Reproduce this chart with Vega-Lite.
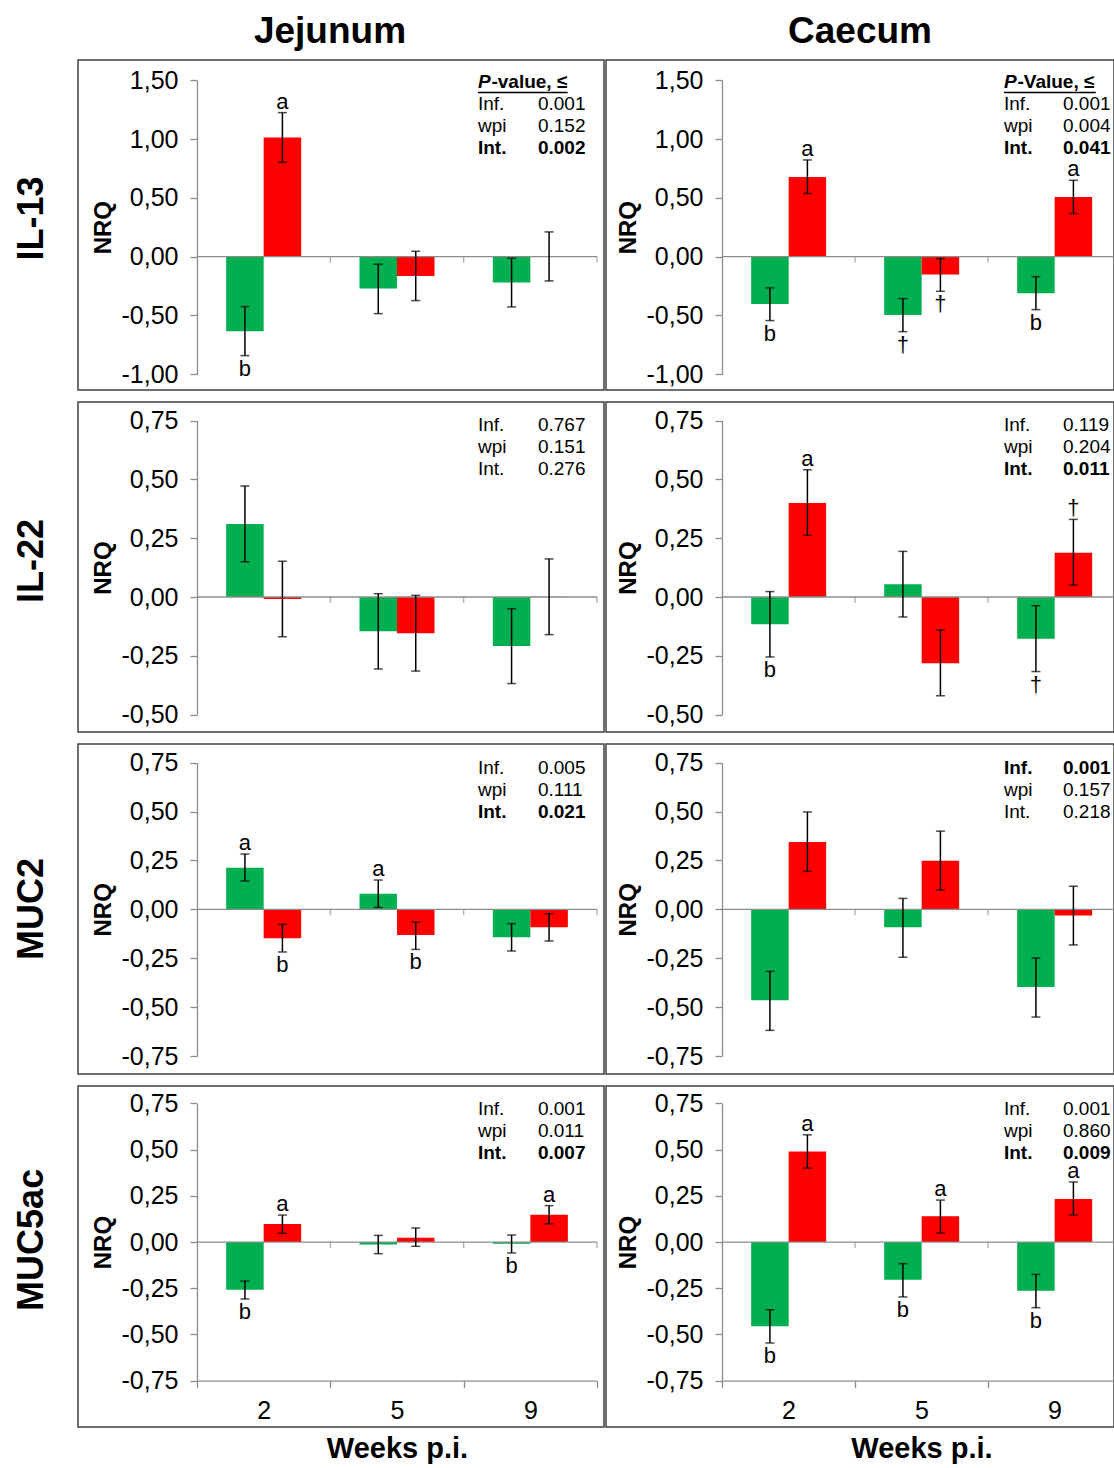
{
"$schema": "https://vega.github.io/schema/vega-lite/v6.json",
"background": "white",
"padding": {"left": 14, "top": 12, "right": 0, "bottom": 0},
"config": {
  "font": "Liberation Sans",
  "view": {"stroke": "#404040", "strokeWidth": 1.5},
  "axis": {"grid": false, "domainColor": "#8c8c8c", "domainWidth": 1.3, "tickColor": "#8c8c8c", "tickWidth": 1.3, "tickSize": 7, "labelFontSize": 25, "labelColor": "black", "titleFontSize": 24, "titleFontWeight": "bold", "titleColor": "black", "labelFont": "Liberation Sans", "titleFont": "Liberation Sans"},
  "title": {"color": "black", "fontWeight": "bold", "anchor": "middle", "font": "Liberation Sans"},
  "text": {"color": "black"}
},
"datasets": {
  "bars": [
    {"tissue":"Jejunum","gene":"IL-13","week":"2","group":"Uninfected","nrq":-0.635,"lo":-0.842,"hi":-0.425,"letter":"b","pos":"below"},
    {"tissue":"Jejunum","gene":"IL-13","week":"2","group":"Infected","nrq":1.012,"lo":0.802,"hi":1.224,"letter":"a","pos":"above"},
    {"tissue":"Jejunum","gene":"IL-13","week":"5","group":"Uninfected","nrq":-0.272,"lo":-0.485,"hi":-0.065,"letter":"","pos":""},
    {"tissue":"Jejunum","gene":"IL-13","week":"5","group":"Infected","nrq":-0.164,"lo":-0.374,"hi":0.045,"letter":"","pos":""},
    {"tissue":"Jejunum","gene":"IL-13","week":"9","group":"Uninfected","nrq":-0.221,"lo":-0.428,"hi":-0.014,"letter":"","pos":""},
    {"tissue":"Jejunum","gene":"IL-13","week":"9","group":"Infected","nrq":0.0,"lo":-0.207,"hi":0.21,"letter":"","pos":""},
    {"tissue":"Caecum","gene":"IL-13","week":"2","group":"Uninfected","nrq":-0.402,"lo":-0.544,"hi":-0.266,"letter":"b","pos":"below"},
    {"tissue":"Caecum","gene":"IL-13","week":"2","group":"Infected","nrq":0.677,"lo":0.536,"hi":0.822,"letter":"a","pos":"above"},
    {"tissue":"Caecum","gene":"IL-13","week":"5","group":"Uninfected","nrq":-0.496,"lo":-0.638,"hi":-0.357,"letter":"†","pos":"below"},
    {"tissue":"Caecum","gene":"IL-13","week":"5","group":"Infected","nrq":-0.153,"lo":-0.295,"hi":-0.017,"letter":"†","pos":"below"},
    {"tissue":"Caecum","gene":"IL-13","week":"9","group":"Uninfected","nrq":-0.312,"lo":-0.451,"hi":-0.17,"letter":"b","pos":"below"},
    {"tissue":"Caecum","gene":"IL-13","week":"9","group":"Infected","nrq":0.507,"lo":0.366,"hi":0.649,"letter":"a","pos":"above"},
    {"tissue":"Jejunum","gene":"IL-22","week":"2","group":"Uninfected","nrq":0.31,"lo":0.15,"hi":0.472,"letter":"","pos":""},
    {"tissue":"Jejunum","gene":"IL-22","week":"2","group":"Infected","nrq":-0.009,"lo":-0.169,"hi":0.152,"letter":"","pos":""},
    {"tissue":"Jejunum","gene":"IL-22","week":"5","group":"Uninfected","nrq":-0.146,"lo":-0.306,"hi":0.014,"letter":"","pos":""},
    {"tissue":"Jejunum","gene":"IL-22","week":"5","group":"Infected","nrq":-0.154,"lo":-0.315,"hi":0.007,"letter":"","pos":""},
    {"tissue":"Jejunum","gene":"IL-22","week":"9","group":"Uninfected","nrq":-0.208,"lo":-0.368,"hi":-0.05,"letter":"","pos":""},
    {"tissue":"Jejunum","gene":"IL-22","week":"9","group":"Infected","nrq":0.001,"lo":-0.16,"hi":0.162,"letter":"","pos":""},
    {"tissue":"Caecum","gene":"IL-22","week":"2","group":"Uninfected","nrq":-0.116,"lo":-0.255,"hi":0.023,"letter":"b","pos":"below"},
    {"tissue":"Caecum","gene":"IL-22","week":"2","group":"Infected","nrq":0.4,"lo":0.262,"hi":0.541,"letter":"a","pos":"above"},
    {"tissue":"Caecum","gene":"IL-22","week":"5","group":"Uninfected","nrq":0.054,"lo":-0.085,"hi":0.194,"letter":"","pos":""},
    {"tissue":"Caecum","gene":"IL-22","week":"5","group":"Infected","nrq":-0.282,"lo":-0.42,"hi":-0.14,"letter":"","pos":""},
    {"tissue":"Caecum","gene":"IL-22","week":"9","group":"Uninfected","nrq":-0.177,"lo":-0.317,"hi":-0.037,"letter":"†","pos":"below"},
    {"tissue":"Caecum","gene":"IL-22","week":"9","group":"Infected","nrq":0.188,"lo":0.051,"hi":0.33,"letter":"†","pos":"above"},
    {"tissue":"Jejunum","gene":"MUC2","week":"2","group":"Uninfected","nrq":0.213,"lo":0.145,"hi":0.283,"letter":"a","pos":"above"},
    {"tissue":"Jejunum","gene":"MUC2","week":"2","group":"Infected","nrq":-0.148,"lo":-0.218,"hi":-0.077,"letter":"b","pos":"below"},
    {"tissue":"Jejunum","gene":"MUC2","week":"5","group":"Uninfected","nrq":0.08,"lo":0.01,"hi":0.15,"letter":"a","pos":"above"},
    {"tissue":"Jejunum","gene":"MUC2","week":"5","group":"Infected","nrq":-0.131,"lo":-0.205,"hi":-0.065,"letter":"b","pos":"below"},
    {"tissue":"Jejunum","gene":"MUC2","week":"9","group":"Uninfected","nrq":-0.143,"lo":-0.213,"hi":-0.073,"letter":"","pos":""},
    {"tissue":"Jejunum","gene":"MUC2","week":"9","group":"Infected","nrq":-0.092,"lo":-0.162,"hi":-0.022,"letter":"","pos":""},
    {"tissue":"Caecum","gene":"MUC2","week":"2","group":"Uninfected","nrq":-0.465,"lo":-0.619,"hi":-0.317,"letter":"","pos":""},
    {"tissue":"Caecum","gene":"MUC2","week":"2","group":"Infected","nrq":0.344,"lo":0.194,"hi":0.498,"letter":"","pos":""},
    {"tissue":"Caecum","gene":"MUC2","week":"5","group":"Uninfected","nrq":-0.092,"lo":-0.245,"hi":0.056,"letter":"","pos":""},
    {"tissue":"Caecum","gene":"MUC2","week":"5","group":"Infected","nrq":0.249,"lo":0.099,"hi":0.4,"letter":"","pos":""},
    {"tissue":"Caecum","gene":"MUC2","week":"9","group":"Uninfected","nrq":-0.397,"lo":-0.551,"hi":-0.249,"letter":"","pos":""},
    {"tissue":"Caecum","gene":"MUC2","week":"9","group":"Infected","nrq":-0.031,"lo":-0.182,"hi":0.118,"letter":"","pos":""},
    {"tissue":"Jejunum","gene":"MUC5ac","week":"2","group":"Uninfected","nrq":-0.258,"lo":-0.308,"hi":-0.211,"letter":"b","pos":"below"},
    {"tissue":"Jejunum","gene":"MUC5ac","week":"2","group":"Infected","nrq":0.097,"lo":0.047,"hi":0.146,"letter":"a","pos":"above"},
    {"tissue":"Jejunum","gene":"MUC5ac","week":"5","group":"Uninfected","nrq":-0.013,"lo":-0.063,"hi":0.036,"letter":"","pos":""},
    {"tissue":"Jejunum","gene":"MUC5ac","week":"5","group":"Infected","nrq":0.023,"lo":-0.023,"hi":0.076,"letter":"","pos":""},
    {"tissue":"Jejunum","gene":"MUC5ac","week":"9","group":"Uninfected","nrq":-0.009,"lo":-0.059,"hi":0.038,"letter":"b","pos":"below"},
    {"tissue":"Jejunum","gene":"MUC5ac","week":"9","group":"Infected","nrq":0.148,"lo":0.099,"hi":0.197,"letter":"a","pos":"above"},
    {"tissue":"Caecum","gene":"MUC5ac","week":"2","group":"Uninfected","nrq":-0.456,"lo":-0.546,"hi":-0.366,"letter":"b","pos":"below"},
    {"tissue":"Caecum","gene":"MUC5ac","week":"2","group":"Infected","nrq":0.49,"lo":0.4,"hi":0.58,"letter":"a","pos":"above"},
    {"tissue":"Caecum","gene":"MUC5ac","week":"5","group":"Uninfected","nrq":-0.204,"lo":-0.297,"hi":-0.117,"letter":"b","pos":"below"},
    {"tissue":"Caecum","gene":"MUC5ac","week":"5","group":"Infected","nrq":0.139,"lo":0.049,"hi":0.227,"letter":"a","pos":"above"},
    {"tissue":"Caecum","gene":"MUC5ac","week":"9","group":"Uninfected","nrq":-0.263,"lo":-0.355,"hi":-0.175,"letter":"b","pos":"below"},
    {"tissue":"Caecum","gene":"MUC5ac","week":"9","group":"Infected","nrq":0.233,"lo":0.146,"hi":0.325,"letter":"a","pos":"above"}
  ],
  "pvals": [
    {"tissue":"Jejunum","gene":"IL-13","term":"hdr","p":"-value, ≤","bold":true},
    {"tissue":"Jejunum","gene":"IL-13","term":"Inf.","p":"0.001","bold":false},
    {"tissue":"Jejunum","gene":"IL-13","term":"wpi","p":"0.152","bold":false},
    {"tissue":"Jejunum","gene":"IL-13","term":"Int.","p":"0.002","bold":true},
    {"tissue":"Caecum","gene":"IL-13","term":"hdr","p":"-Value, ≤","bold":true},
    {"tissue":"Caecum","gene":"IL-13","term":"Inf.","p":"0.001","bold":false},
    {"tissue":"Caecum","gene":"IL-13","term":"wpi","p":"0.004","bold":false},
    {"tissue":"Caecum","gene":"IL-13","term":"Int.","p":"0.041","bold":true},
    {"tissue":"Jejunum","gene":"IL-22","term":"Inf.","p":"0.767","bold":false},
    {"tissue":"Jejunum","gene":"IL-22","term":"wpi","p":"0.151","bold":false},
    {"tissue":"Jejunum","gene":"IL-22","term":"Int.","p":"0.276","bold":false},
    {"tissue":"Caecum","gene":"IL-22","term":"Inf.","p":"0.119","bold":false},
    {"tissue":"Caecum","gene":"IL-22","term":"wpi","p":"0.204","bold":false},
    {"tissue":"Caecum","gene":"IL-22","term":"Int.","p":"0.011","bold":true},
    {"tissue":"Jejunum","gene":"MUC2","term":"Inf.","p":"0.005","bold":false},
    {"tissue":"Jejunum","gene":"MUC2","term":"wpi","p":"0.111","bold":false},
    {"tissue":"Jejunum","gene":"MUC2","term":"Int.","p":"0.021","bold":true},
    {"tissue":"Caecum","gene":"MUC2","term":"Inf.","p":"0.001","bold":true},
    {"tissue":"Caecum","gene":"MUC2","term":"wpi","p":"0.157","bold":false},
    {"tissue":"Caecum","gene":"MUC2","term":"Int.","p":"0.218","bold":false},
    {"tissue":"Jejunum","gene":"MUC5ac","term":"Inf.","p":"0.001","bold":false},
    {"tissue":"Jejunum","gene":"MUC5ac","term":"wpi","p":"0.011","bold":false},
    {"tissue":"Jejunum","gene":"MUC5ac","term":"Int.","p":"0.007","bold":true},
    {"tissue":"Caecum","gene":"MUC5ac","term":"Inf.","p":"0.001","bold":false},
    {"tissue":"Caecum","gene":"MUC5ac","term":"wpi","p":"0.860","bold":false},
    {"tissue":"Caecum","gene":"MUC5ac","term":"Int.","p":"0.009","bold":true}
  ]
},
"spacing": 10,
"vconcat": [
{
 "title": {"text": "IL-13", "orient": "left", "fontSize": 36, "offset": 26, "dx": -17},
 "spacing": 0,
 "hconcat": [
  {
   "width": 526, "height": 330,
   "title": {"text": "Jejunum", "fontSize": 37, "offset": 9, "dx": -11},
   "data": {"name": "bars"},
   "layer": [
    {"transform": [{"filter": "datum.tissue === 'Jejunum' && datum.gene === 'IL-13'"}], "mark": {"type": "bar"}, "encoding": {
      "x": {"field": "week", "type": "ordinal", "scale": {"domain": ["2","5","9"], "range": [119, 519], "paddingInner": 0, "paddingOuter": 0}, "axis": null},
      "xOffset": {"field": "group", "type": "nominal", "scale": {"domain": ["Uninfected","Infected"], "paddingInner": 0, "paddingOuter": 0.778}},
      "y": {"field": "nrq", "type": "quantitative", "scale": {"domain": [-1, 1.5], "range": [314.2, 20.2], "nice": false, "zero": false}, "axis": {"values": [-1,-0.5,0,0.5,1,1.5], "labelExpr": "(datum.value < 0 ? '-' : '') + replace(format(abs(datum.value), '.2f'), '.', ',')", "offset": -119, "title": "NRQ", "labelPadding": 12, "titlePadding": 6}},
      "y2": {"datum": 0},
      "color": {"field": "group", "type": "nominal", "scale": {"domain": ["Uninfected","Infected"], "range": ["#00B050","#FF0000"]}, "legend": null}}},
    {"transform": [{"filter": "datum.tissue === 'Jejunum' && datum.gene === 'IL-13' && datum.week === '2' && datum.group === 'Uninfected'"}], "mark": {"type": "rule", "color": "#8c8c8c", "strokeWidth": 1.3}, "encoding": {"x": {"datum": "2", "type": "ordinal", "bandPosition": 0, "axis": null}, "x2": {"datum": "9", "bandPosition": 1}, "y": {"datum": 0, "type": "quantitative", "scale": {"domain": [-1, 1.5], "range": [314.2, 20.2], "nice": false, "zero": false}, "axis": null}}},
    {"transform": [{"filter": "datum.tissue === 'Jejunum' && datum.gene === 'IL-13' && datum.group === 'Uninfected'"}], "mark": {"type": "tick", "orient": "vertical", "size": 6, "thickness": 1.3, "color": "#8c8c8c", "yOffset": 3}, "encoding": {"x": {"field": "week", "type": "ordinal", "bandPosition": 1, "axis": null}, "y": {"datum": 0, "type": "quantitative", "scale": {"domain": [-1, 1.5], "range": [314.2, 20.2], "nice": false, "zero": false}, "axis": null}}},
    {"transform": [{"filter": "datum.tissue === 'Jejunum' && datum.gene === 'IL-13'"}], "mark": {"type": "rule", "color": "black", "strokeWidth": 1.5}, "encoding": {"x": {"field": "week", "type": "ordinal", "axis": null}, "xOffset": {"field": "group", "type": "nominal"}, "y": {"field": "lo", "type": "quantitative", "scale": {"domain": [-1, 1.5], "range": [314.2, 20.2], "nice": false, "zero": false}, "axis": null}, "y2": {"field": "hi"}}},
    {"transform": [{"filter": "datum.tissue === 'Jejunum' && datum.gene === 'IL-13'"}], "mark": {"type": "tick", "orient": "horizontal", "size": 9, "thickness": 1.5, "color": "black"}, "encoding": {"x": {"field": "week", "type": "ordinal", "axis": null}, "xOffset": {"field": "group", "type": "nominal"}, "y": {"field": "lo", "type": "quantitative", "scale": {"domain": [-1, 1.5], "range": [314.2, 20.2], "nice": false, "zero": false}, "axis": null}}},
    {"transform": [{"filter": "datum.tissue === 'Jejunum' && datum.gene === 'IL-13'"}], "mark": {"type": "tick", "orient": "horizontal", "size": 9, "thickness": 1.5, "color": "black"}, "encoding": {"x": {"field": "week", "type": "ordinal", "axis": null}, "xOffset": {"field": "group", "type": "nominal"}, "y": {"field": "hi", "type": "quantitative", "scale": {"domain": [-1, 1.5], "range": [314.2, 20.2], "nice": false, "zero": false}, "axis": null}}},
    {"transform": [{"filter": "datum.tissue === 'Jejunum' && datum.gene === 'IL-13' && datum.pos === 'above'"}], "mark": {"type": "text", "baseline": "alphabetic", "dy": -4, "fontSize": 22}, "encoding": {"x": {"field": "week", "type": "ordinal", "axis": null}, "xOffset": {"field": "group", "type": "nominal"}, "y": {"field": "hi", "type": "quantitative", "scale": {"domain": [-1, 1.5], "range": [314.2, 20.2], "nice": false, "zero": false}, "axis": null}, "text": {"field": "letter"}}},
    {"transform": [{"filter": "datum.tissue === 'Jejunum' && datum.gene === 'IL-13' && datum.pos === 'below'"}], "mark": {"type": "text", "baseline": "top", "dy": 3, "fontSize": 22}, "encoding": {"x": {"field": "week", "type": "ordinal", "axis": null}, "xOffset": {"field": "group", "type": "nominal"}, "y": {"field": "lo", "type": "quantitative", "scale": {"domain": [-1, 1.5], "range": [314.2, 20.2], "nice": false, "zero": false}, "axis": null}, "text": {"field": "letter"}}},
    {"data": {"name": "pvals"}, "transform": [{"filter": "datum.tissue === 'Jejunum' && datum.gene === 'IL-13' && datum.term !== 'hdr'"}], "mark": {"type": "text", "align": "left", "baseline": "middle", "fontSize": 19, "fontWeight": {"expr": "datum.bold ? 'bold' : 'normal'"}}, "encoding": {"x": {"datum": "9", "type": "ordinal", "bandPosition": 0.107, "axis": null}, "y": {"field": "term", "type": "nominal", "scale": {"type": "point", "domain": ["hdr","Inf.","wpi","Int."], "range": [21.5, 87.5], "padding": 0}, "axis": null}, "text": {"field": "term"}}},
    {"data": {"name": "pvals"}, "transform": [{"filter": "datum.tissue === 'Jejunum' && datum.gene === 'IL-13' && datum.term !== 'hdr'"}], "mark": {"type": "text", "align": "left", "baseline": "middle", "fontSize": 19, "fontWeight": {"expr": "datum.bold ? 'bold' : 'normal'"}}, "encoding": {"x": {"datum": "9", "type": "ordinal", "bandPosition": 0.557, "axis": null}, "y": {"field": "term", "type": "nominal", "scale": {"type": "point", "domain": ["hdr","Inf.","wpi","Int."], "range": [21.5, 87.5], "padding": 0}, "axis": null}, "text": {"field": "p"}}},
    {"data": {"name": "pvals"}, "transform": [{"filter": "datum.tissue === 'Jejunum' && datum.gene === 'IL-13' && datum.term === 'hdr'"}], "mark": {"type": "text", "align": "left", "baseline": "middle", "fontSize": 19, "fontWeight": "bold", "fontStyle": "italic", "text": "P"}, "encoding": {"x": {"datum": "9", "type": "ordinal", "bandPosition": 0.107, "axis": null}, "y": {"field": "term", "type": "nominal", "scale": {"type": "point", "domain": ["hdr","Inf.","wpi","Int."], "range": [21.5, 87.5], "padding": 0}, "axis": null}}},
    {"data": {"name": "pvals"}, "transform": [{"filter": "datum.tissue === 'Jejunum' && datum.gene === 'IL-13' && datum.term === 'hdr'"}], "mark": {"type": "text", "align": "left", "baseline": "middle", "fontSize": 19, "fontWeight": "bold", "dx": 13.5}, "encoding": {"x": {"datum": "9", "type": "ordinal", "bandPosition": 0.107, "axis": null}, "y": {"field": "term", "type": "nominal", "scale": {"type": "point", "domain": ["hdr","Inf.","wpi","Int."], "range": [21.5, 87.5], "padding": 0}, "axis": null}, "text": {"field": "p"}}},
    {"data": {"name": "pvals"}, "transform": [{"filter": "datum.tissue === 'Jejunum' && datum.gene === 'IL-13' && datum.term === 'hdr'"}], "mark": {"type": "rule", "color": "black", "strokeWidth": 1.4, "yOffset": 11}, "encoding": {"x": {"datum": "9", "type": "ordinal", "bandPosition": 0.107, "axis": null}, "x2": {"datum": "9", "bandPosition": 0.78}, "y": {"field": "term", "type": "nominal", "scale": {"type": "point", "domain": ["hdr","Inf.","wpi","Int."], "range": [21.5, 87.5], "padding": 0}, "axis": null}}}
   ],
   "resolve": {"scale": {"y": "independent"}}
  },
  {
   "width": 508, "height": 330,
   "title": {"text": "Caecum", "fontSize": 37, "offset": 9},
   "data": {"name": "bars"},
   "layer": [
    {"transform": [{"filter": "datum.tissue === 'Caecum' && datum.gene === 'IL-13'"}], "mark": {"type": "bar"}, "encoding": {
      "x": {"field": "week", "type": "ordinal", "scale": {"domain": ["2","5","9"], "range": [116, 515], "paddingInner": 0, "paddingOuter": 0}, "axis": null},
      "xOffset": {"field": "group", "type": "nominal", "scale": {"domain": ["Uninfected","Infected"], "paddingInner": 0, "paddingOuter": 0.778}},
      "y": {"field": "nrq", "type": "quantitative", "scale": {"domain": [-1, 1.5], "range": [314.2, 20.2], "nice": false, "zero": false}, "axis": {"values": [-1,-0.5,0,0.5,1,1.5], "labelExpr": "(datum.value < 0 ? '-' : '') + replace(format(abs(datum.value), '.2f'), '.', ',')", "offset": -116, "title": "NRQ", "labelPadding": 12, "titlePadding": 6}},
      "y2": {"datum": 0},
      "color": {"field": "group", "type": "nominal", "scale": {"domain": ["Uninfected","Infected"], "range": ["#00B050","#FF0000"]}, "legend": null}}},
    {"transform": [{"filter": "datum.tissue === 'Caecum' && datum.gene === 'IL-13' && datum.week === '2' && datum.group === 'Uninfected'"}], "mark": {"type": "rule", "color": "#8c8c8c", "strokeWidth": 1.3}, "encoding": {"x": {"datum": "2", "type": "ordinal", "bandPosition": 0, "axis": null}, "x2": {"datum": "9", "bandPosition": 1}, "y": {"datum": 0, "type": "quantitative", "scale": {"domain": [-1, 1.5], "range": [314.2, 20.2], "nice": false, "zero": false}, "axis": null}}},
    {"transform": [{"filter": "datum.tissue === 'Caecum' && datum.gene === 'IL-13' && datum.group === 'Uninfected'"}], "mark": {"type": "tick", "orient": "vertical", "size": 6, "thickness": 1.3, "color": "#8c8c8c", "yOffset": 3}, "encoding": {"x": {"field": "week", "type": "ordinal", "bandPosition": 1, "axis": null}, "y": {"datum": 0, "type": "quantitative", "scale": {"domain": [-1, 1.5], "range": [314.2, 20.2], "nice": false, "zero": false}, "axis": null}}},
    {"transform": [{"filter": "datum.tissue === 'Caecum' && datum.gene === 'IL-13'"}], "mark": {"type": "rule", "color": "black", "strokeWidth": 1.5}, "encoding": {"x": {"field": "week", "type": "ordinal", "axis": null}, "xOffset": {"field": "group", "type": "nominal"}, "y": {"field": "lo", "type": "quantitative", "scale": {"domain": [-1, 1.5], "range": [314.2, 20.2], "nice": false, "zero": false}, "axis": null}, "y2": {"field": "hi"}}},
    {"transform": [{"filter": "datum.tissue === 'Caecum' && datum.gene === 'IL-13'"}], "mark": {"type": "tick", "orient": "horizontal", "size": 9, "thickness": 1.5, "color": "black"}, "encoding": {"x": {"field": "week", "type": "ordinal", "axis": null}, "xOffset": {"field": "group", "type": "nominal"}, "y": {"field": "lo", "type": "quantitative", "scale": {"domain": [-1, 1.5], "range": [314.2, 20.2], "nice": false, "zero": false}, "axis": null}}},
    {"transform": [{"filter": "datum.tissue === 'Caecum' && datum.gene === 'IL-13'"}], "mark": {"type": "tick", "orient": "horizontal", "size": 9, "thickness": 1.5, "color": "black"}, "encoding": {"x": {"field": "week", "type": "ordinal", "axis": null}, "xOffset": {"field": "group", "type": "nominal"}, "y": {"field": "hi", "type": "quantitative", "scale": {"domain": [-1, 1.5], "range": [314.2, 20.2], "nice": false, "zero": false}, "axis": null}}},
    {"transform": [{"filter": "datum.tissue === 'Caecum' && datum.gene === 'IL-13' && datum.pos === 'above'"}], "mark": {"type": "text", "baseline": "alphabetic", "dy": -4, "fontSize": 22}, "encoding": {"x": {"field": "week", "type": "ordinal", "axis": null}, "xOffset": {"field": "group", "type": "nominal"}, "y": {"field": "hi", "type": "quantitative", "scale": {"domain": [-1, 1.5], "range": [314.2, 20.2], "nice": false, "zero": false}, "axis": null}, "text": {"field": "letter"}}},
    {"transform": [{"filter": "datum.tissue === 'Caecum' && datum.gene === 'IL-13' && datum.pos === 'below'"}], "mark": {"type": "text", "baseline": "top", "dy": 3, "fontSize": 22}, "encoding": {"x": {"field": "week", "type": "ordinal", "axis": null}, "xOffset": {"field": "group", "type": "nominal"}, "y": {"field": "lo", "type": "quantitative", "scale": {"domain": [-1, 1.5], "range": [314.2, 20.2], "nice": false, "zero": false}, "axis": null}, "text": {"field": "letter"}}},
    {"data": {"name": "pvals"}, "transform": [{"filter": "datum.tissue === 'Caecum' && datum.gene === 'IL-13' && datum.term !== 'hdr'"}], "mark": {"type": "text", "align": "left", "baseline": "middle", "fontSize": 19, "fontWeight": {"expr": "datum.bold ? 'bold' : 'normal'"}}, "encoding": {"x": {"datum": "9", "type": "ordinal", "bandPosition": 0.12, "axis": null}, "y": {"field": "term", "type": "nominal", "scale": {"type": "point", "domain": ["hdr","Inf.","wpi","Int."], "range": [21.5, 87.5], "padding": 0}, "axis": null}, "text": {"field": "term"}}},
    {"data": {"name": "pvals"}, "transform": [{"filter": "datum.tissue === 'Caecum' && datum.gene === 'IL-13' && datum.term !== 'hdr'"}], "mark": {"type": "text", "align": "left", "baseline": "middle", "fontSize": 19, "fontWeight": {"expr": "datum.bold ? 'bold' : 'normal'"}}, "encoding": {"x": {"datum": "9", "type": "ordinal", "bandPosition": 0.564, "axis": null}, "y": {"field": "term", "type": "nominal", "scale": {"type": "point", "domain": ["hdr","Inf.","wpi","Int."], "range": [21.5, 87.5], "padding": 0}, "axis": null}, "text": {"field": "p"}}},
    {"data": {"name": "pvals"}, "transform": [{"filter": "datum.tissue === 'Caecum' && datum.gene === 'IL-13' && datum.term === 'hdr'"}], "mark": {"type": "text", "align": "left", "baseline": "middle", "fontSize": 19, "fontWeight": "bold", "fontStyle": "italic", "text": "P"}, "encoding": {"x": {"datum": "9", "type": "ordinal", "bandPosition": 0.12, "axis": null}, "y": {"field": "term", "type": "nominal", "scale": {"type": "point", "domain": ["hdr","Inf.","wpi","Int."], "range": [21.5, 87.5], "padding": 0}, "axis": null}}},
    {"data": {"name": "pvals"}, "transform": [{"filter": "datum.tissue === 'Caecum' && datum.gene === 'IL-13' && datum.term === 'hdr'"}], "mark": {"type": "text", "align": "left", "baseline": "middle", "fontSize": 19, "fontWeight": "bold", "dx": 13.5}, "encoding": {"x": {"datum": "9", "type": "ordinal", "bandPosition": 0.12, "axis": null}, "y": {"field": "term", "type": "nominal", "scale": {"type": "point", "domain": ["hdr","Inf.","wpi","Int."], "range": [21.5, 87.5], "padding": 0}, "axis": null}, "text": {"field": "p"}}},
    {"data": {"name": "pvals"}, "transform": [{"filter": "datum.tissue === 'Caecum' && datum.gene === 'IL-13' && datum.term === 'hdr'"}], "mark": {"type": "rule", "color": "black", "strokeWidth": 1.4, "yOffset": 11}, "encoding": {"x": {"datum": "9", "type": "ordinal", "bandPosition": 0.12, "axis": null}, "x2": {"datum": "9", "bandPosition": 0.81}, "y": {"field": "term", "type": "nominal", "scale": {"type": "point", "domain": ["hdr","Inf.","wpi","Int."], "range": [21.5, 87.5], "padding": 0}, "axis": null}}}
   ],
   "resolve": {"scale": {"y": "independent"}}
  }
 ]
},
{
 "title": {"text": "IL-22", "orient": "left", "fontSize": 36, "offset": 26, "dx": 6},
 "spacing": 0,
 "hconcat": [
  {
   "width": 526, "height": 330,
   "data": {"name": "bars"},
   "layer": [
    {"transform": [{"filter": "datum.tissue === 'Jejunum' && datum.gene === 'IL-22'"}], "mark": {"type": "bar"}, "encoding": {
      "x": {"field": "week", "type": "ordinal", "scale": {"domain": ["2","5","9"], "range": [119, 519], "paddingInner": 0, "paddingOuter": 0}, "axis": null},
      "xOffset": {"field": "group", "type": "nominal", "scale": {"domain": ["Uninfected","Infected"], "paddingInner": 0, "paddingOuter": 0.778}},
      "y": {"field": "nrq", "type": "quantitative", "scale": {"domain": [-0.5, 0.75], "range": [312.6, 18.6], "nice": false, "zero": false}, "axis": {"values": [-0.5,-0.25,0,0.25,0.5,0.75], "labelExpr": "(datum.value < 0 ? '-' : '') + replace(format(abs(datum.value), '.2f'), '.', ',')", "offset": -119, "title": "NRQ", "labelPadding": 12, "titlePadding": 6}},
      "y2": {"datum": 0},
      "color": {"field": "group", "type": "nominal", "scale": {"domain": ["Uninfected","Infected"], "range": ["#00B050","#FF0000"]}, "legend": null}}},
    {"transform": [{"filter": "datum.tissue === 'Jejunum' && datum.gene === 'IL-22' && datum.week === '2' && datum.group === 'Uninfected'"}], "mark": {"type": "rule", "color": "#8c8c8c", "strokeWidth": 1.3}, "encoding": {"x": {"datum": "2", "type": "ordinal", "bandPosition": 0, "axis": null}, "x2": {"datum": "9", "bandPosition": 1}, "y": {"datum": 0, "type": "quantitative", "scale": {"domain": [-0.5, 0.75], "range": [312.6, 18.6], "nice": false, "zero": false}, "axis": null}}},
    {"transform": [{"filter": "datum.tissue === 'Jejunum' && datum.gene === 'IL-22' && datum.group === 'Uninfected'"}], "mark": {"type": "tick", "orient": "vertical", "size": 6, "thickness": 1.3, "color": "#8c8c8c", "yOffset": 3}, "encoding": {"x": {"field": "week", "type": "ordinal", "bandPosition": 1, "axis": null}, "y": {"datum": 0, "type": "quantitative", "scale": {"domain": [-0.5, 0.75], "range": [312.6, 18.6], "nice": false, "zero": false}, "axis": null}}},
    {"transform": [{"filter": "datum.tissue === 'Jejunum' && datum.gene === 'IL-22'"}], "mark": {"type": "rule", "color": "black", "strokeWidth": 1.5}, "encoding": {"x": {"field": "week", "type": "ordinal", "axis": null}, "xOffset": {"field": "group", "type": "nominal"}, "y": {"field": "lo", "type": "quantitative", "scale": {"domain": [-0.5, 0.75], "range": [312.6, 18.6], "nice": false, "zero": false}, "axis": null}, "y2": {"field": "hi"}}},
    {"transform": [{"filter": "datum.tissue === 'Jejunum' && datum.gene === 'IL-22'"}], "mark": {"type": "tick", "orient": "horizontal", "size": 9, "thickness": 1.5, "color": "black"}, "encoding": {"x": {"field": "week", "type": "ordinal", "axis": null}, "xOffset": {"field": "group", "type": "nominal"}, "y": {"field": "lo", "type": "quantitative", "scale": {"domain": [-0.5, 0.75], "range": [312.6, 18.6], "nice": false, "zero": false}, "axis": null}}},
    {"transform": [{"filter": "datum.tissue === 'Jejunum' && datum.gene === 'IL-22'"}], "mark": {"type": "tick", "orient": "horizontal", "size": 9, "thickness": 1.5, "color": "black"}, "encoding": {"x": {"field": "week", "type": "ordinal", "axis": null}, "xOffset": {"field": "group", "type": "nominal"}, "y": {"field": "hi", "type": "quantitative", "scale": {"domain": [-0.5, 0.75], "range": [312.6, 18.6], "nice": false, "zero": false}, "axis": null}}},
    {"data": {"name": "pvals"}, "transform": [{"filter": "datum.tissue === 'Jejunum' && datum.gene === 'IL-22'"}], "mark": {"type": "text", "align": "left", "baseline": "middle", "fontSize": 19, "fontWeight": {"expr": "datum.bold ? 'bold' : 'normal'"}}, "encoding": {"x": {"datum": "9", "type": "ordinal", "bandPosition": 0.107, "axis": null}, "y": {"field": "term", "type": "nominal", "scale": {"type": "point", "domain": ["Inf.","wpi","Int."], "range": [23.3, 67.3], "padding": 0}, "axis": null}, "text": {"field": "term"}}},
    {"data": {"name": "pvals"}, "transform": [{"filter": "datum.tissue === 'Jejunum' && datum.gene === 'IL-22'"}], "mark": {"type": "text", "align": "left", "baseline": "middle", "fontSize": 19, "fontWeight": {"expr": "datum.bold ? 'bold' : 'normal'"}}, "encoding": {"x": {"datum": "9", "type": "ordinal", "bandPosition": 0.557, "axis": null}, "y": {"field": "term", "type": "nominal", "scale": {"type": "point", "domain": ["Inf.","wpi","Int."], "range": [23.3, 67.3], "padding": 0}, "axis": null}, "text": {"field": "p"}}}
   ],
   "resolve": {"scale": {"y": "independent"}}
  },
  {
   "width": 508, "height": 330,
   "data": {"name": "bars"},
   "layer": [
    {"transform": [{"filter": "datum.tissue === 'Caecum' && datum.gene === 'IL-22'"}], "mark": {"type": "bar"}, "encoding": {
      "x": {"field": "week", "type": "ordinal", "scale": {"domain": ["2","5","9"], "range": [116, 515], "paddingInner": 0, "paddingOuter": 0}, "axis": null},
      "xOffset": {"field": "group", "type": "nominal", "scale": {"domain": ["Uninfected","Infected"], "paddingInner": 0, "paddingOuter": 0.778}},
      "y": {"field": "nrq", "type": "quantitative", "scale": {"domain": [-0.5, 0.75], "range": [312.6, 18.6], "nice": false, "zero": false}, "axis": {"values": [-0.5,-0.25,0,0.25,0.5,0.75], "labelExpr": "(datum.value < 0 ? '-' : '') + replace(format(abs(datum.value), '.2f'), '.', ',')", "offset": -116, "title": "NRQ", "labelPadding": 12, "titlePadding": 6}},
      "y2": {"datum": 0},
      "color": {"field": "group", "type": "nominal", "scale": {"domain": ["Uninfected","Infected"], "range": ["#00B050","#FF0000"]}, "legend": null}}},
    {"transform": [{"filter": "datum.tissue === 'Caecum' && datum.gene === 'IL-22' && datum.week === '2' && datum.group === 'Uninfected'"}], "mark": {"type": "rule", "color": "#8c8c8c", "strokeWidth": 1.3}, "encoding": {"x": {"datum": "2", "type": "ordinal", "bandPosition": 0, "axis": null}, "x2": {"datum": "9", "bandPosition": 1}, "y": {"datum": 0, "type": "quantitative", "scale": {"domain": [-0.5, 0.75], "range": [312.6, 18.6], "nice": false, "zero": false}, "axis": null}}},
    {"transform": [{"filter": "datum.tissue === 'Caecum' && datum.gene === 'IL-22' && datum.group === 'Uninfected'"}], "mark": {"type": "tick", "orient": "vertical", "size": 6, "thickness": 1.3, "color": "#8c8c8c", "yOffset": 3}, "encoding": {"x": {"field": "week", "type": "ordinal", "bandPosition": 1, "axis": null}, "y": {"datum": 0, "type": "quantitative", "scale": {"domain": [-0.5, 0.75], "range": [312.6, 18.6], "nice": false, "zero": false}, "axis": null}}},
    {"transform": [{"filter": "datum.tissue === 'Caecum' && datum.gene === 'IL-22'"}], "mark": {"type": "rule", "color": "black", "strokeWidth": 1.5}, "encoding": {"x": {"field": "week", "type": "ordinal", "axis": null}, "xOffset": {"field": "group", "type": "nominal"}, "y": {"field": "lo", "type": "quantitative", "scale": {"domain": [-0.5, 0.75], "range": [312.6, 18.6], "nice": false, "zero": false}, "axis": null}, "y2": {"field": "hi"}}},
    {"transform": [{"filter": "datum.tissue === 'Caecum' && datum.gene === 'IL-22'"}], "mark": {"type": "tick", "orient": "horizontal", "size": 9, "thickness": 1.5, "color": "black"}, "encoding": {"x": {"field": "week", "type": "ordinal", "axis": null}, "xOffset": {"field": "group", "type": "nominal"}, "y": {"field": "lo", "type": "quantitative", "scale": {"domain": [-0.5, 0.75], "range": [312.6, 18.6], "nice": false, "zero": false}, "axis": null}}},
    {"transform": [{"filter": "datum.tissue === 'Caecum' && datum.gene === 'IL-22'"}], "mark": {"type": "tick", "orient": "horizontal", "size": 9, "thickness": 1.5, "color": "black"}, "encoding": {"x": {"field": "week", "type": "ordinal", "axis": null}, "xOffset": {"field": "group", "type": "nominal"}, "y": {"field": "hi", "type": "quantitative", "scale": {"domain": [-0.5, 0.75], "range": [312.6, 18.6], "nice": false, "zero": false}, "axis": null}}},
    {"transform": [{"filter": "datum.tissue === 'Caecum' && datum.gene === 'IL-22' && datum.pos === 'above'"}], "mark": {"type": "text", "baseline": "alphabetic", "dy": -4, "fontSize": 22}, "encoding": {"x": {"field": "week", "type": "ordinal", "axis": null}, "xOffset": {"field": "group", "type": "nominal"}, "y": {"field": "hi", "type": "quantitative", "scale": {"domain": [-0.5, 0.75], "range": [312.6, 18.6], "nice": false, "zero": false}, "axis": null}, "text": {"field": "letter"}}},
    {"transform": [{"filter": "datum.tissue === 'Caecum' && datum.gene === 'IL-22' && datum.pos === 'below'"}], "mark": {"type": "text", "baseline": "top", "dy": 3, "fontSize": 22}, "encoding": {"x": {"field": "week", "type": "ordinal", "axis": null}, "xOffset": {"field": "group", "type": "nominal"}, "y": {"field": "lo", "type": "quantitative", "scale": {"domain": [-0.5, 0.75], "range": [312.6, 18.6], "nice": false, "zero": false}, "axis": null}, "text": {"field": "letter"}}},
    {"data": {"name": "pvals"}, "transform": [{"filter": "datum.tissue === 'Caecum' && datum.gene === 'IL-22'"}], "mark": {"type": "text", "align": "left", "baseline": "middle", "fontSize": 19, "fontWeight": {"expr": "datum.bold ? 'bold' : 'normal'"}}, "encoding": {"x": {"datum": "9", "type": "ordinal", "bandPosition": 0.12, "axis": null}, "y": {"field": "term", "type": "nominal", "scale": {"type": "point", "domain": ["Inf.","wpi","Int."], "range": [23.3, 67.3], "padding": 0}, "axis": null}, "text": {"field": "term"}}},
    {"data": {"name": "pvals"}, "transform": [{"filter": "datum.tissue === 'Caecum' && datum.gene === 'IL-22'"}], "mark": {"type": "text", "align": "left", "baseline": "middle", "fontSize": 19, "fontWeight": {"expr": "datum.bold ? 'bold' : 'normal'"}}, "encoding": {"x": {"datum": "9", "type": "ordinal", "bandPosition": 0.564, "axis": null}, "y": {"field": "term", "type": "nominal", "scale": {"type": "point", "domain": ["Inf.","wpi","Int."], "range": [23.3, 67.3], "padding": 0}, "axis": null}, "text": {"field": "p"}}}
   ],
   "resolve": {"scale": {"y": "independent"}}
  }
 ]
},
{
 "title": {"text": "MUC2", "orient": "left", "fontSize": 36, "offset": 26},
 "spacing": 0,
 "hconcat": [
  {
   "width": 526, "height": 330,
   "data": {"name": "bars"},
   "layer": [
    {"transform": [{"filter": "datum.tissue === 'Jejunum' && datum.gene === 'MUC2'"}], "mark": {"type": "bar"}, "encoding": {
      "x": {"field": "week", "type": "ordinal", "scale": {"domain": ["2","5","9"], "range": [119, 519], "paddingInner": 0, "paddingOuter": 0}, "axis": null},
      "xOffset": {"field": "group", "type": "nominal", "scale": {"domain": ["Uninfected","Infected"], "paddingInner": 0, "paddingOuter": 0.778}},
      "y": {"field": "nrq", "type": "quantitative", "scale": {"domain": [-0.75, 0.75], "range": [312, 18.7], "nice": false, "zero": false}, "axis": {"values": [-0.75,-0.5,-0.25,0,0.25,0.5,0.75], "labelExpr": "(datum.value < 0 ? '-' : '') + replace(format(abs(datum.value), '.2f'), '.', ',')", "offset": -119, "title": "NRQ", "labelPadding": 12, "titlePadding": 6}},
      "y2": {"datum": 0},
      "color": {"field": "group", "type": "nominal", "scale": {"domain": ["Uninfected","Infected"], "range": ["#00B050","#FF0000"]}, "legend": null}}},
    {"transform": [{"filter": "datum.tissue === 'Jejunum' && datum.gene === 'MUC2' && datum.week === '2' && datum.group === 'Uninfected'"}], "mark": {"type": "rule", "color": "#8c8c8c", "strokeWidth": 1.3}, "encoding": {"x": {"datum": "2", "type": "ordinal", "bandPosition": 0, "axis": null}, "x2": {"datum": "9", "bandPosition": 1}, "y": {"datum": 0, "type": "quantitative", "scale": {"domain": [-0.75, 0.75], "range": [312, 18.7], "nice": false, "zero": false}, "axis": null}}},
    {"transform": [{"filter": "datum.tissue === 'Jejunum' && datum.gene === 'MUC2' && datum.group === 'Uninfected'"}], "mark": {"type": "tick", "orient": "vertical", "size": 6, "thickness": 1.3, "color": "#8c8c8c", "yOffset": 3}, "encoding": {"x": {"field": "week", "type": "ordinal", "bandPosition": 1, "axis": null}, "y": {"datum": 0, "type": "quantitative", "scale": {"domain": [-0.75, 0.75], "range": [312, 18.7], "nice": false, "zero": false}, "axis": null}}},
    {"transform": [{"filter": "datum.tissue === 'Jejunum' && datum.gene === 'MUC2'"}], "mark": {"type": "rule", "color": "black", "strokeWidth": 1.5}, "encoding": {"x": {"field": "week", "type": "ordinal", "axis": null}, "xOffset": {"field": "group", "type": "nominal"}, "y": {"field": "lo", "type": "quantitative", "scale": {"domain": [-0.75, 0.75], "range": [312, 18.7], "nice": false, "zero": false}, "axis": null}, "y2": {"field": "hi"}}},
    {"transform": [{"filter": "datum.tissue === 'Jejunum' && datum.gene === 'MUC2'"}], "mark": {"type": "tick", "orient": "horizontal", "size": 9, "thickness": 1.5, "color": "black"}, "encoding": {"x": {"field": "week", "type": "ordinal", "axis": null}, "xOffset": {"field": "group", "type": "nominal"}, "y": {"field": "lo", "type": "quantitative", "scale": {"domain": [-0.75, 0.75], "range": [312, 18.7], "nice": false, "zero": false}, "axis": null}}},
    {"transform": [{"filter": "datum.tissue === 'Jejunum' && datum.gene === 'MUC2'"}], "mark": {"type": "tick", "orient": "horizontal", "size": 9, "thickness": 1.5, "color": "black"}, "encoding": {"x": {"field": "week", "type": "ordinal", "axis": null}, "xOffset": {"field": "group", "type": "nominal"}, "y": {"field": "hi", "type": "quantitative", "scale": {"domain": [-0.75, 0.75], "range": [312, 18.7], "nice": false, "zero": false}, "axis": null}}},
    {"transform": [{"filter": "datum.tissue === 'Jejunum' && datum.gene === 'MUC2' && datum.pos === 'above'"}], "mark": {"type": "text", "baseline": "alphabetic", "dy": -4, "fontSize": 22}, "encoding": {"x": {"field": "week", "type": "ordinal", "axis": null}, "xOffset": {"field": "group", "type": "nominal"}, "y": {"field": "hi", "type": "quantitative", "scale": {"domain": [-0.75, 0.75], "range": [312, 18.7], "nice": false, "zero": false}, "axis": null}, "text": {"field": "letter"}}},
    {"transform": [{"filter": "datum.tissue === 'Jejunum' && datum.gene === 'MUC2' && datum.pos === 'below'"}], "mark": {"type": "text", "baseline": "top", "dy": 3, "fontSize": 22}, "encoding": {"x": {"field": "week", "type": "ordinal", "axis": null}, "xOffset": {"field": "group", "type": "nominal"}, "y": {"field": "lo", "type": "quantitative", "scale": {"domain": [-0.75, 0.75], "range": [312, 18.7], "nice": false, "zero": false}, "axis": null}, "text": {"field": "letter"}}},
    {"data": {"name": "pvals"}, "transform": [{"filter": "datum.tissue === 'Jejunum' && datum.gene === 'MUC2'"}], "mark": {"type": "text", "align": "left", "baseline": "middle", "fontSize": 19, "fontWeight": {"expr": "datum.bold ? 'bold' : 'normal'"}}, "encoding": {"x": {"datum": "9", "type": "ordinal", "bandPosition": 0.107, "axis": null}, "y": {"field": "term", "type": "nominal", "scale": {"type": "point", "domain": ["Inf.","wpi","Int."], "range": [23.7, 67.7], "padding": 0}, "axis": null}, "text": {"field": "term"}}},
    {"data": {"name": "pvals"}, "transform": [{"filter": "datum.tissue === 'Jejunum' && datum.gene === 'MUC2'"}], "mark": {"type": "text", "align": "left", "baseline": "middle", "fontSize": 19, "fontWeight": {"expr": "datum.bold ? 'bold' : 'normal'"}}, "encoding": {"x": {"datum": "9", "type": "ordinal", "bandPosition": 0.557, "axis": null}, "y": {"field": "term", "type": "nominal", "scale": {"type": "point", "domain": ["Inf.","wpi","Int."], "range": [23.7, 67.7], "padding": 0}, "axis": null}, "text": {"field": "p"}}}
   ],
   "resolve": {"scale": {"y": "independent"}}
  },
  {
   "width": 508, "height": 330,
   "data": {"name": "bars"},
   "layer": [
    {"transform": [{"filter": "datum.tissue === 'Caecum' && datum.gene === 'MUC2'"}], "mark": {"type": "bar"}, "encoding": {
      "x": {"field": "week", "type": "ordinal", "scale": {"domain": ["2","5","9"], "range": [116, 515], "paddingInner": 0, "paddingOuter": 0}, "axis": null},
      "xOffset": {"field": "group", "type": "nominal", "scale": {"domain": ["Uninfected","Infected"], "paddingInner": 0, "paddingOuter": 0.778}},
      "y": {"field": "nrq", "type": "quantitative", "scale": {"domain": [-0.75, 0.75], "range": [312, 18.7], "nice": false, "zero": false}, "axis": {"values": [-0.75,-0.5,-0.25,0,0.25,0.5,0.75], "labelExpr": "(datum.value < 0 ? '-' : '') + replace(format(abs(datum.value), '.2f'), '.', ',')", "offset": -116, "title": "NRQ", "labelPadding": 12, "titlePadding": 6}},
      "y2": {"datum": 0},
      "color": {"field": "group", "type": "nominal", "scale": {"domain": ["Uninfected","Infected"], "range": ["#00B050","#FF0000"]}, "legend": null}}},
    {"transform": [{"filter": "datum.tissue === 'Caecum' && datum.gene === 'MUC2' && datum.week === '2' && datum.group === 'Uninfected'"}], "mark": {"type": "rule", "color": "#8c8c8c", "strokeWidth": 1.3}, "encoding": {"x": {"datum": "2", "type": "ordinal", "bandPosition": 0, "axis": null}, "x2": {"datum": "9", "bandPosition": 1}, "y": {"datum": 0, "type": "quantitative", "scale": {"domain": [-0.75, 0.75], "range": [312, 18.7], "nice": false, "zero": false}, "axis": null}}},
    {"transform": [{"filter": "datum.tissue === 'Caecum' && datum.gene === 'MUC2' && datum.group === 'Uninfected'"}], "mark": {"type": "tick", "orient": "vertical", "size": 6, "thickness": 1.3, "color": "#8c8c8c", "yOffset": 3}, "encoding": {"x": {"field": "week", "type": "ordinal", "bandPosition": 1, "axis": null}, "y": {"datum": 0, "type": "quantitative", "scale": {"domain": [-0.75, 0.75], "range": [312, 18.7], "nice": false, "zero": false}, "axis": null}}},
    {"transform": [{"filter": "datum.tissue === 'Caecum' && datum.gene === 'MUC2'"}], "mark": {"type": "rule", "color": "black", "strokeWidth": 1.5}, "encoding": {"x": {"field": "week", "type": "ordinal", "axis": null}, "xOffset": {"field": "group", "type": "nominal"}, "y": {"field": "lo", "type": "quantitative", "scale": {"domain": [-0.75, 0.75], "range": [312, 18.7], "nice": false, "zero": false}, "axis": null}, "y2": {"field": "hi"}}},
    {"transform": [{"filter": "datum.tissue === 'Caecum' && datum.gene === 'MUC2'"}], "mark": {"type": "tick", "orient": "horizontal", "size": 9, "thickness": 1.5, "color": "black"}, "encoding": {"x": {"field": "week", "type": "ordinal", "axis": null}, "xOffset": {"field": "group", "type": "nominal"}, "y": {"field": "lo", "type": "quantitative", "scale": {"domain": [-0.75, 0.75], "range": [312, 18.7], "nice": false, "zero": false}, "axis": null}}},
    {"transform": [{"filter": "datum.tissue === 'Caecum' && datum.gene === 'MUC2'"}], "mark": {"type": "tick", "orient": "horizontal", "size": 9, "thickness": 1.5, "color": "black"}, "encoding": {"x": {"field": "week", "type": "ordinal", "axis": null}, "xOffset": {"field": "group", "type": "nominal"}, "y": {"field": "hi", "type": "quantitative", "scale": {"domain": [-0.75, 0.75], "range": [312, 18.7], "nice": false, "zero": false}, "axis": null}}},
    {"data": {"name": "pvals"}, "transform": [{"filter": "datum.tissue === 'Caecum' && datum.gene === 'MUC2'"}], "mark": {"type": "text", "align": "left", "baseline": "middle", "fontSize": 19, "fontWeight": {"expr": "datum.bold ? 'bold' : 'normal'"}}, "encoding": {"x": {"datum": "9", "type": "ordinal", "bandPosition": 0.12, "axis": null}, "y": {"field": "term", "type": "nominal", "scale": {"type": "point", "domain": ["Inf.","wpi","Int."], "range": [23.7, 67.7], "padding": 0}, "axis": null}, "text": {"field": "term"}}},
    {"data": {"name": "pvals"}, "transform": [{"filter": "datum.tissue === 'Caecum' && datum.gene === 'MUC2'"}], "mark": {"type": "text", "align": "left", "baseline": "middle", "fontSize": 19, "fontWeight": {"expr": "datum.bold ? 'bold' : 'normal'"}}, "encoding": {"x": {"datum": "9", "type": "ordinal", "bandPosition": 0.564, "axis": null}, "y": {"field": "term", "type": "nominal", "scale": {"type": "point", "domain": ["Inf.","wpi","Int."], "range": [23.7, 67.7], "padding": 0}, "axis": null}, "text": {"field": "p"}}}
   ],
   "resolve": {"scale": {"y": "independent"}}
  }
 ]
},
{
 "title": {"text": "MUC5ac", "orient": "left", "fontSize": 36, "offset": 26, "dx": 35},
 "spacing": 0,
 "hconcat": [
  {
   "width": 526, "height": 341,
   "data": {"name": "bars"},
   "layer": [
    {"transform": [{"filter": "datum.tissue === 'Jejunum' && datum.gene === 'MUC5ac'"}], "mark": {"type": "bar"}, "encoding": {
      "x": {"field": "week", "type": "ordinal", "scale": {"domain": ["2","5","9"], "range": [119, 519], "paddingInner": 0, "paddingOuter": 0}, "axis": {"orient": "bottom", "offset": -46.3, "tickBand": "extent", "labelPadding": 11, "labelAngle": 0, "title": "Weeks p.i.", "titleFontSize": 29, "titlePadding": 11}},
      "xOffset": {"field": "group", "type": "nominal", "scale": {"domain": ["Uninfected","Infected"], "paddingInner": 0, "paddingOuter": 0.778}},
      "y": {"field": "nrq", "type": "quantitative", "scale": {"domain": [-0.75, 0.75], "range": [294.7, 17.4], "nice": false, "zero": false}, "axis": {"values": [-0.75,-0.5,-0.25,0,0.25,0.5,0.75], "labelExpr": "(datum.value < 0 ? '-' : '') + replace(format(abs(datum.value), '.2f'), '.', ',')", "offset": -119, "title": "NRQ", "labelPadding": 12, "titlePadding": 6}},
      "y2": {"datum": 0},
      "color": {"field": "group", "type": "nominal", "scale": {"domain": ["Uninfected","Infected"], "range": ["#00B050","#FF0000"]}, "legend": null}}},
    {"transform": [{"filter": "datum.tissue === 'Jejunum' && datum.gene === 'MUC5ac' && datum.week === '2' && datum.group === 'Uninfected'"}], "mark": {"type": "rule", "color": "#8c8c8c", "strokeWidth": 1.3}, "encoding": {"x": {"datum": "2", "type": "ordinal", "bandPosition": 0}, "x2": {"datum": "9", "bandPosition": 1}, "y": {"datum": 0, "type": "quantitative", "scale": {"domain": [-0.75, 0.75], "range": [294.7, 17.4], "nice": false, "zero": false}, "axis": null}}},
    {"transform": [{"filter": "datum.tissue === 'Jejunum' && datum.gene === 'MUC5ac' && datum.group === 'Uninfected'"}], "mark": {"type": "tick", "orient": "vertical", "size": 6, "thickness": 1.3, "color": "#8c8c8c", "yOffset": 3}, "encoding": {"x": {"field": "week", "type": "ordinal", "bandPosition": 1}, "y": {"datum": 0, "type": "quantitative", "scale": {"domain": [-0.75, 0.75], "range": [294.7, 17.4], "nice": false, "zero": false}, "axis": null}}},
    {"transform": [{"filter": "datum.tissue === 'Jejunum' && datum.gene === 'MUC5ac'"}], "mark": {"type": "rule", "color": "black", "strokeWidth": 1.5}, "encoding": {"x": {"field": "week", "type": "ordinal"}, "xOffset": {"field": "group", "type": "nominal"}, "y": {"field": "lo", "type": "quantitative", "scale": {"domain": [-0.75, 0.75], "range": [294.7, 17.4], "nice": false, "zero": false}, "axis": null}, "y2": {"field": "hi"}}},
    {"transform": [{"filter": "datum.tissue === 'Jejunum' && datum.gene === 'MUC5ac'"}], "mark": {"type": "tick", "orient": "horizontal", "size": 9, "thickness": 1.5, "color": "black"}, "encoding": {"x": {"field": "week", "type": "ordinal"}, "xOffset": {"field": "group", "type": "nominal"}, "y": {"field": "lo", "type": "quantitative", "scale": {"domain": [-0.75, 0.75], "range": [294.7, 17.4], "nice": false, "zero": false}, "axis": null}}},
    {"transform": [{"filter": "datum.tissue === 'Jejunum' && datum.gene === 'MUC5ac'"}], "mark": {"type": "tick", "orient": "horizontal", "size": 9, "thickness": 1.5, "color": "black"}, "encoding": {"x": {"field": "week", "type": "ordinal"}, "xOffset": {"field": "group", "type": "nominal"}, "y": {"field": "hi", "type": "quantitative", "scale": {"domain": [-0.75, 0.75], "range": [294.7, 17.4], "nice": false, "zero": false}, "axis": null}}},
    {"transform": [{"filter": "datum.tissue === 'Jejunum' && datum.gene === 'MUC5ac' && datum.pos === 'above'"}], "mark": {"type": "text", "baseline": "alphabetic", "dy": -4, "fontSize": 22}, "encoding": {"x": {"field": "week", "type": "ordinal"}, "xOffset": {"field": "group", "type": "nominal"}, "y": {"field": "hi", "type": "quantitative", "scale": {"domain": [-0.75, 0.75], "range": [294.7, 17.4], "nice": false, "zero": false}, "axis": null}, "text": {"field": "letter"}}},
    {"transform": [{"filter": "datum.tissue === 'Jejunum' && datum.gene === 'MUC5ac' && datum.pos === 'below'"}], "mark": {"type": "text", "baseline": "top", "dy": 3, "fontSize": 22}, "encoding": {"x": {"field": "week", "type": "ordinal"}, "xOffset": {"field": "group", "type": "nominal"}, "y": {"field": "lo", "type": "quantitative", "scale": {"domain": [-0.75, 0.75], "range": [294.7, 17.4], "nice": false, "zero": false}, "axis": null}, "text": {"field": "letter"}}},
    {"data": {"name": "pvals"}, "transform": [{"filter": "datum.tissue === 'Jejunum' && datum.gene === 'MUC5ac'"}], "mark": {"type": "text", "align": "left", "baseline": "middle", "fontSize": 19, "fontWeight": {"expr": "datum.bold ? 'bold' : 'normal'"}}, "encoding": {"x": {"datum": "9", "type": "ordinal", "bandPosition": 0.107}, "y": {"field": "term", "type": "nominal", "scale": {"type": "point", "domain": ["Inf.","wpi","Int."], "range": [22.7, 66.7], "padding": 0}, "axis": null}, "text": {"field": "term"}}},
    {"data": {"name": "pvals"}, "transform": [{"filter": "datum.tissue === 'Jejunum' && datum.gene === 'MUC5ac'"}], "mark": {"type": "text", "align": "left", "baseline": "middle", "fontSize": 19, "fontWeight": {"expr": "datum.bold ? 'bold' : 'normal'"}}, "encoding": {"x": {"datum": "9", "type": "ordinal", "bandPosition": 0.557}, "y": {"field": "term", "type": "nominal", "scale": {"type": "point", "domain": ["Inf.","wpi","Int."], "range": [22.7, 66.7], "padding": 0}, "axis": null}, "text": {"field": "p"}}}
   ],
   "resolve": {"scale": {"y": "independent"}}
  },
  {
   "width": 508, "height": 341,
   "data": {"name": "bars"},
   "layer": [
    {"transform": [{"filter": "datum.tissue === 'Caecum' && datum.gene === 'MUC5ac'"}], "mark": {"type": "bar"}, "encoding": {
      "x": {"field": "week", "type": "ordinal", "scale": {"domain": ["2","5","9"], "range": [116, 515], "paddingInner": 0, "paddingOuter": 0}, "axis": {"orient": "bottom", "offset": -46.3, "tickBand": "extent", "labelPadding": 11, "labelAngle": 0, "title": "Weeks p.i.", "titleFontSize": 29, "titlePadding": 11}},
      "xOffset": {"field": "group", "type": "nominal", "scale": {"domain": ["Uninfected","Infected"], "paddingInner": 0, "paddingOuter": 0.778}},
      "y": {"field": "nrq", "type": "quantitative", "scale": {"domain": [-0.75, 0.75], "range": [294.7, 17.4], "nice": false, "zero": false}, "axis": {"values": [-0.75,-0.5,-0.25,0,0.25,0.5,0.75], "labelExpr": "(datum.value < 0 ? '-' : '') + replace(format(abs(datum.value), '.2f'), '.', ',')", "offset": -116, "title": "NRQ", "labelPadding": 12, "titlePadding": 6}},
      "y2": {"datum": 0},
      "color": {"field": "group", "type": "nominal", "scale": {"domain": ["Uninfected","Infected"], "range": ["#00B050","#FF0000"]}, "legend": null}}},
    {"transform": [{"filter": "datum.tissue === 'Caecum' && datum.gene === 'MUC5ac' && datum.week === '2' && datum.group === 'Uninfected'"}], "mark": {"type": "rule", "color": "#8c8c8c", "strokeWidth": 1.3}, "encoding": {"x": {"datum": "2", "type": "ordinal", "bandPosition": 0}, "x2": {"datum": "9", "bandPosition": 1}, "y": {"datum": 0, "type": "quantitative", "scale": {"domain": [-0.75, 0.75], "range": [294.7, 17.4], "nice": false, "zero": false}, "axis": null}}},
    {"transform": [{"filter": "datum.tissue === 'Caecum' && datum.gene === 'MUC5ac' && datum.group === 'Uninfected'"}], "mark": {"type": "tick", "orient": "vertical", "size": 6, "thickness": 1.3, "color": "#8c8c8c", "yOffset": 3}, "encoding": {"x": {"field": "week", "type": "ordinal", "bandPosition": 1}, "y": {"datum": 0, "type": "quantitative", "scale": {"domain": [-0.75, 0.75], "range": [294.7, 17.4], "nice": false, "zero": false}, "axis": null}}},
    {"transform": [{"filter": "datum.tissue === 'Caecum' && datum.gene === 'MUC5ac'"}], "mark": {"type": "rule", "color": "black", "strokeWidth": 1.5}, "encoding": {"x": {"field": "week", "type": "ordinal"}, "xOffset": {"field": "group", "type": "nominal"}, "y": {"field": "lo", "type": "quantitative", "scale": {"domain": [-0.75, 0.75], "range": [294.7, 17.4], "nice": false, "zero": false}, "axis": null}, "y2": {"field": "hi"}}},
    {"transform": [{"filter": "datum.tissue === 'Caecum' && datum.gene === 'MUC5ac'"}], "mark": {"type": "tick", "orient": "horizontal", "size": 9, "thickness": 1.5, "color": "black"}, "encoding": {"x": {"field": "week", "type": "ordinal"}, "xOffset": {"field": "group", "type": "nominal"}, "y": {"field": "lo", "type": "quantitative", "scale": {"domain": [-0.75, 0.75], "range": [294.7, 17.4], "nice": false, "zero": false}, "axis": null}}},
    {"transform": [{"filter": "datum.tissue === 'Caecum' && datum.gene === 'MUC5ac'"}], "mark": {"type": "tick", "orient": "horizontal", "size": 9, "thickness": 1.5, "color": "black"}, "encoding": {"x": {"field": "week", "type": "ordinal"}, "xOffset": {"field": "group", "type": "nominal"}, "y": {"field": "hi", "type": "quantitative", "scale": {"domain": [-0.75, 0.75], "range": [294.7, 17.4], "nice": false, "zero": false}, "axis": null}}},
    {"transform": [{"filter": "datum.tissue === 'Caecum' && datum.gene === 'MUC5ac' && datum.pos === 'above'"}], "mark": {"type": "text", "baseline": "alphabetic", "dy": -4, "fontSize": 22}, "encoding": {"x": {"field": "week", "type": "ordinal"}, "xOffset": {"field": "group", "type": "nominal"}, "y": {"field": "hi", "type": "quantitative", "scale": {"domain": [-0.75, 0.75], "range": [294.7, 17.4], "nice": false, "zero": false}, "axis": null}, "text": {"field": "letter"}}},
    {"transform": [{"filter": "datum.tissue === 'Caecum' && datum.gene === 'MUC5ac' && datum.pos === 'below'"}], "mark": {"type": "text", "baseline": "top", "dy": 3, "fontSize": 22}, "encoding": {"x": {"field": "week", "type": "ordinal"}, "xOffset": {"field": "group", "type": "nominal"}, "y": {"field": "lo", "type": "quantitative", "scale": {"domain": [-0.75, 0.75], "range": [294.7, 17.4], "nice": false, "zero": false}, "axis": null}, "text": {"field": "letter"}}},
    {"data": {"name": "pvals"}, "transform": [{"filter": "datum.tissue === 'Caecum' && datum.gene === 'MUC5ac'"}], "mark": {"type": "text", "align": "left", "baseline": "middle", "fontSize": 19, "fontWeight": {"expr": "datum.bold ? 'bold' : 'normal'"}}, "encoding": {"x": {"datum": "9", "type": "ordinal", "bandPosition": 0.12}, "y": {"field": "term", "type": "nominal", "scale": {"type": "point", "domain": ["Inf.","wpi","Int."], "range": [22.7, 66.7], "padding": 0}, "axis": null}, "text": {"field": "term"}}},
    {"data": {"name": "pvals"}, "transform": [{"filter": "datum.tissue === 'Caecum' && datum.gene === 'MUC5ac'"}], "mark": {"type": "text", "align": "left", "baseline": "middle", "fontSize": 19, "fontWeight": {"expr": "datum.bold ? 'bold' : 'normal'"}}, "encoding": {"x": {"datum": "9", "type": "ordinal", "bandPosition": 0.564}, "y": {"field": "term", "type": "nominal", "scale": {"type": "point", "domain": ["Inf.","wpi","Int."], "range": [22.7, 66.7], "padding": 0}, "axis": null}, "text": {"field": "p"}}}
   ],
   "resolve": {"scale": {"y": "independent"}}
  }
 ]
}
]
}
